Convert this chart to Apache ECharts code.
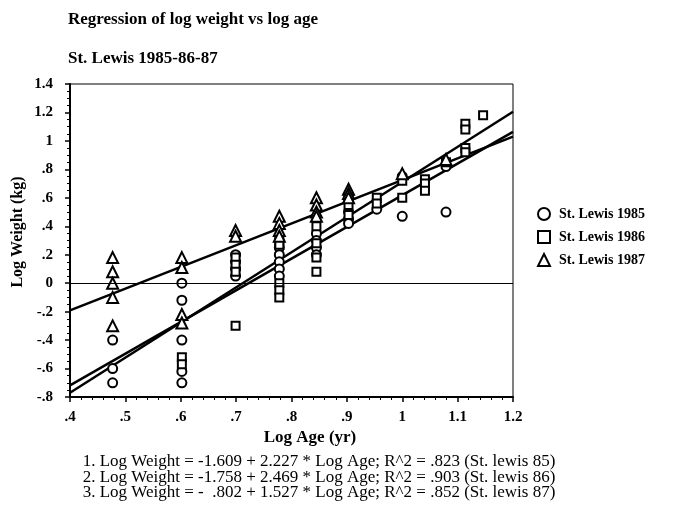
<!DOCTYPE html>
<html><head><meta charset="utf-8">
<script src="https://cdn.jsdelivr.net/npm/echarts@6/dist/echarts.min.js"></script>
<style>html,body{margin:0;padding:0;background:#fff}#c{width:674px;height:508px}</style>
</head><body><div id="c"></div>
<script>
// Data (log age, log weight)
var s1985 = [
  [0.477,-0.40],[0.477,-0.60],[0.477,-0.70],
  [0.602,0.00],[0.602,-0.12],[0.602,-0.40],[0.602,-0.62],[0.602,-0.70],
  [0.699,0.20],[0.699,0.15],[0.699,0.10],[0.699,0.05],
  [0.778,0.25],[0.778,0.20],[0.778,0.15],[0.778,0.10],[0.778,0.05],
  [0.845,0.35],[0.845,0.30],[0.845,0.25],[0.845,0.20],
  [0.903,0.50],[0.903,0.45],[0.903,0.42],
  [0.954,0.52],
  [1.000,0.75],[1.000,0.47],
  [1.079,0.50],[1.079,0.82]
];
var s1986 = [
  [0.602,-0.52],[0.602,-0.57],
  [0.699,0.18],[0.699,0.13],[0.699,0.08],[0.699,-0.30],
  [0.778,0.30],[0.778,0.27],[0.778,0.00],[0.778,-0.05],[0.778,-0.10],
  [0.845,0.40],[0.845,0.28],[0.845,0.18],[0.845,0.08],
  [0.903,0.60],[0.903,0.55],[0.903,0.48],
  [0.954,0.60],[0.954,0.56],
  [1.000,0.60],[1.000,0.72],
  [1.041,0.73],[1.041,0.70],[1.041,0.65],
  [1.079,0.85],
  [1.114,1.12],[1.114,1.08],[1.114,0.95],[1.114,0.92],
  [1.146,1.18]
];
var s1987 = [
  [0.477,0.18],[0.477,0.08],[0.477,0.00],[0.477,-0.10],[0.477,-0.30],
  [0.602,0.18],[0.602,0.11],[0.602,-0.22],[0.602,-0.28],
  [0.699,0.37],[0.699,0.33],
  [0.778,0.47],[0.778,0.42],[0.778,0.37],[0.778,0.33],
  [0.845,0.60],[0.845,0.55],[0.845,0.50],[0.845,0.47],
  [0.903,0.66],[0.903,0.63],[0.903,0.60],
  [1.000,0.77],
  [1.079,0.87]
];
// Regression coefficients [intercept, slope]
var fit1985 = [-1.609, 2.227];
var fit1986 = [-1.758, 2.469];
var fit1987 = [-0.802, 1.527];
var xRange = [0.4, 1.2];
var equations = [
  "1. Log Weight = -1.609 + 2.227 * Log Age; R^2 = .823 (St. lewis 85)",
  "2. Log Weight = -1.758 + 2.469 * Log Age; R^2 = .903 (St. lewis 86)",
  "3. Log Weight = -  .802 + 1.527 * Log Age; R^2 = .852 (St. lewis 87)"
];
var seriesNames = ["St. Lewis 1985","St. Lewis 1986","St. Lewis 1987"];

function fitLine(f){ return xRange.map(function(x){ return [x, f[0] + f[1]*x]; }); }
function fmt(v){
  var r = Math.round(v*100)/100;
  if (r === 0) return "0";
  var s = String(r);
  return s.replace(/^0\./,".").replace(/^-0\./,"-.");
}
var FONT = "Liberation Serif";
var chart = echarts.init(document.getElementById('c'), null, {renderer:'canvas'});
var mk = {color:'#fff', borderColor:'#000', borderWidth:2, opacity:1};
var lineStyle = {color:'#000', width:2.5};
chart.setOption({
  animation:false,
  backgroundColor:'#fff',
  textStyle:{fontFamily:FONT, color:'#000'},
  title:[
    {text:"Regression of log weight vs log age", left:63, top:6,
     textStyle:{fontFamily:FONT, fontSize:17, fontWeight:'bold', color:'#000'}},
    {text:"St. Lewis 1985-86-87", left:63, top:45,
     textStyle:{fontFamily:FONT, fontSize:17, fontWeight:'bold', color:'#000'}}
  ],
  legend:{
    orient:'vertical', left:532, top:202, itemGap:9, itemWidth:12, itemHeight:12,
    data:seriesNames,
    textStyle:{fontFamily:FONT, fontSize:14, fontWeight:'bold', color:'#000', padding:[0,0,0,4]}
  },
  grid:{left:70, top:84, width:443, height:313, show:true, borderColor:'#000', borderWidth:1, backgroundColor:'transparent'},
  xAxis:{
    type:'value', min:0.4, max:1.2, interval:0.1,
    axisLine:{lineStyle:{color:'#000', width:2}, onZero:false},
    axisTick:{show:true, length:5, lineStyle:{color:'#000', width:1.5}},
    minorTick:{show:true, splitNumber:5, length:3, lineStyle:{color:'#000', width:1}},
    splitLine:{show:false},
    axisLabel:{formatter:fmt, fontFamily:FONT, fontSize:15, fontWeight:'bold', color:'#000', margin:13}
  },
  yAxis:{
    type:'value', min:-0.8, max:1.4, interval:0.2,
    axisLine:{lineStyle:{color:'#000', width:2}, onZero:false},
    axisTick:{show:true, length:5, lineStyle:{color:'#000', width:1.5}},
    minorTick:{show:true, splitNumber:4, length:3, lineStyle:{color:'#000', width:1}},
    splitLine:{show:false},
    axisLabel:{formatter:fmt, fontFamily:FONT, fontSize:15, fontWeight:'bold', color:'#000', margin:17}
  },
  series:[
    {type:'line', data:fitLine(fit1985), symbol:'none', lineStyle:lineStyle, silent:true, z:1,
     markLine:{silent:true, symbol:'none', label:{show:false}, lineStyle:{color:'#000', width:1, type:'solid'}, data:[{yAxis:0}]}},
    {type:'line', data:fitLine(fit1986), symbol:'none', lineStyle:lineStyle, silent:true, z:1},
    {type:'line', data:fitLine(fit1987), symbol:'none', lineStyle:lineStyle, silent:true, z:1},
    {name:seriesNames[0], type:'scatter', data:s1985, symbol:'circle', symbolSize:9, itemStyle:mk, z:3},
    {name:seriesNames[1], type:'scatter', data:s1986, symbol:'rect', symbolSize:8, itemStyle:mk, z:3},
    {name:seriesNames[2], type:'scatter', data:s1987, symbol:'triangle', symbolSize:11, itemStyle:mk, z:3}
  ],
  graphic:[
    {type:'text', x:310, y:438, style:{text:"Log Age (yr)", fontFamily:FONT, fontSize:17, fontWeight:'bold', fill:'#000', align:'center', verticalAlign:'middle'}},
    {type:'text', x:18, y:232, rotation:Math.PI/2, style:{text:"Log Weight (kg)", fontFamily:FONT, fontSize:16, fontWeight:'bold', fill:'#000', align:'center', verticalAlign:'middle'}},
    {type:'text', x:319, y:454, style:{text:equations.join("\n"), fontFamily:FONT, fontSize:17, fontWeight:'normal', lineHeight:15.5, fill:'#000', align:'center', verticalAlign:'top'}}
  ]
});
</script></body></html>
